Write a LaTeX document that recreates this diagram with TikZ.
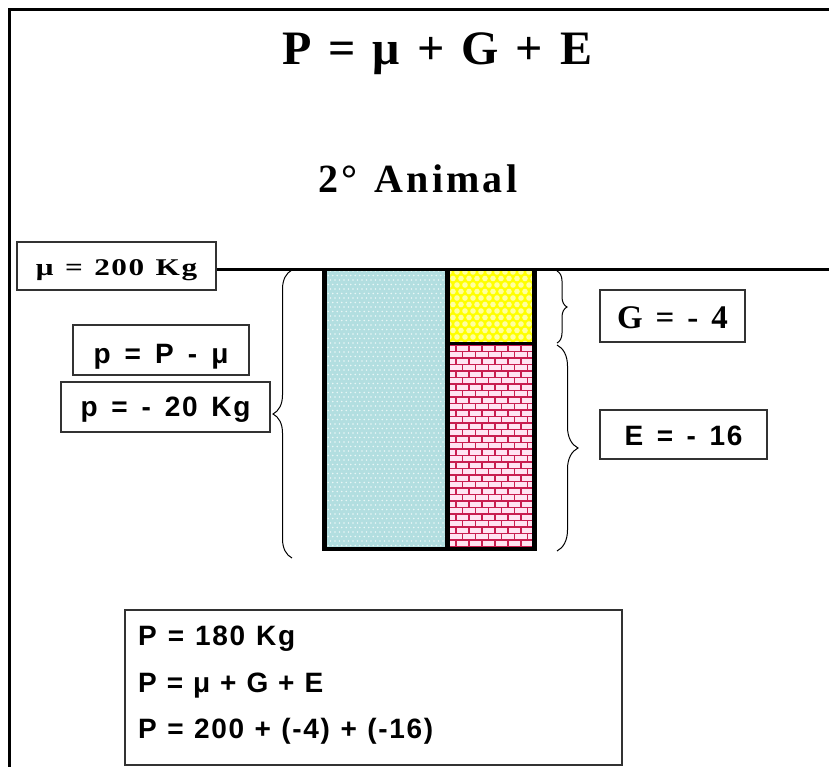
\documentclass[tikz,border=0pt]{standalone}
\usepackage{fontspec}
\usepackage{graphicx}
\setmainfont{Liberation Serif}
\setsansfont{Liberation Sans}
\usetikzlibrary{decorations.pathreplacing}
\newcommand{\tmsf}[1]{\fontsize{#1}{#1}\selectfont\rmfamily\bfseries\addfontfeature{LetterSpace=5}}
\newcommand{\tmsw}[1]{\fontsize{#1}{#1}\selectfont\rmfamily\bfseries\addfontfeature{LetterSpace=8}}
\newcommand{\arsf}[1]{\fontsize{#1}{#1}\selectfont\sffamily\bfseries\addfontfeature{LetterSpace=6}}
\newcommand{\wbox}[2]{\makebox[#1][s]{#2}}
\definecolor{boxline}{RGB}{50,50,50}
\definecolor{bluefill}{RGB}{178,222,224}
\definecolor{bluedot}{RGB}{232,246,246}
\definecolor{yelfill}{RGB}{255,255,0}
\definecolor{yellite}{RGB}{255,255,160}
\definecolor{brickfill}{RGB}{255,228,242}
\definecolor{brickline}{RGB}{200,30,80}
\tikzset{
  lblbox/.style={draw=boxline, line width=1.5pt, inner sep=0pt, text depth=0pt, align=center},
  plain/.style={inner sep=0pt, anchor=base west},
  thick frame/.style={line width=3pt},
  bracestyle/.style={draw=black, line width=1pt, decorate},
}
\begin{document}
\begin{tikzpicture}[x=1pt,y=-1pt]
\useasboundingbox (0,0) rectangle (829,767);
% outer frame
\draw[thick frame] (9.5,767) -- (9.5,9.5) -- (829,9.5);
% titles
\node[plain] (title) at (282,65) {\tmsf{48}\wbox{310pt}{P = μ + G + E}};
\node[plain] (animal) at (318,193) {\tmsw{40}\wbox{199pt}{2° Animal}};
% bar: blue part
\fill[bluefill] (324,269) rectangle (447,549);
\begin{scope}
\clip (324,269) rectangle (447,549);
\foreach \j in {0,...,62}{
  \pgfmathsetmacro\off{mod(\j,2)*2.25}
  \foreach \i in {0,...,27}{
    \fill[bluedot] ({326+\i*4.5+\off},{271+\j*4.5}) circle[radius=0.8pt];
  }
}
\end{scope}
% yellow part
\fill[yelfill] (447,269) rectangle (535,344);
\begin{scope}
\clip (447,269) rectangle (535,344);
\foreach \j in {0,...,12}{
  \pgfmathsetmacro\off{mod(\j,2)*4}
  \foreach \i in {0,...,11}{
    \fill[yellite] ({449+\i*8+\off},{272+\j*6.5}) circle[radius=2.8pt];
  }
}
\end{scope}
% brick part
\fill[brickfill] (447,344) rectangle (535,549);
\begin{scope}
\clip (447,344) rectangle (535,549);
\foreach \r in {0,...,31}{
  \pgfmathsetmacro\yy{345+\r*6.5}
  \draw[brickline, line width=1.2pt] (447,\yy) -- (535,\yy);
  \pgfmathsetmacro\off{mod(\r,2)*6.5}
  \foreach \m in {0,...,7}{
    \draw[brickline, line width=1.2pt] ({443+\off+\m*13},\yy) -- ++(0,6.5);
  }
}
\end{scope}
% bar borders
\draw[line width=4.5pt] (324.5,269) -- (324.5,549) -- (534.5,549) -- (534.5,269);
\draw[line width=4.5pt] (447.5,269) -- (447.5,549);
\draw[line width=3pt] (447.5,343.5) -- (534.5,343.5);
% labels
\node[lblbox, minimum width=199pt, minimum height=48pt, text height=18pt] (mu) at (116.5,266) {\scalebox{1.3}[1]{\tmsf{24}\wbox{124pt}{μ = 200 Kg}}};
\node[lblbox, minimum width=176pt, minimum height=50pt, text height=26pt] (pP) at (161,350) {\arsf{28}\wbox{135pt}{p = P - μ}};
\node[lblbox, minimum width=209pt, minimum height=50pt, text height=18pt] (p20) at (165.5,407) {\arsf{28}\wbox{170pt}{p = - 20 Kg}};
\node[lblbox, minimum width=145pt, minimum height=52pt, text height=24pt] (G) at (672.5,316) {\tmsf{33}\wbox{111pt}{G = - 4}};
\node[lblbox, minimum width=167pt, minimum height=49pt, text height=21pt] (E) at (683.5,434.5) {\arsf{28}\wbox{118pt}{E = - 16}};
% baseline line
\coordinate (lineR) at (829,269);
\draw[thick frame] (mu.east |- lineR) -- (lineR);
% braces
\coordinate (pbot) at (292,558);
\coordinate (ptop) at (292,270);
\coordinate (gtop) at (557,271);
\coordinate (gbot) at (557,343);
\coordinate (etop) at (557,345);
\coordinate (ebot) at (557,551);
\draw[bracestyle, decoration={brace, amplitude=19pt}] (pbot) -- (ptop);
\draw[bracestyle, decoration={brace, amplitude=10pt}] (gtop) -- (gbot);
\draw[bracestyle, decoration={brace, amplitude=21pt}] (etop) -- (ebot);
% result box
\node[lblbox, minimum width=497pt, minimum height=155pt] (eq) at (373.5,687.5) {};
\node[plain] (eq1) at (138,645) {\arsf{28}\wbox{157pt}{P = 180 Kg}};
\node[plain] (eq2) at (138,692) {\arsf{28}\wbox{185pt}{P = μ + G + E}};
\node[plain] (eq3) at (138,738) {\arsf{28}\wbox{295pt}{P = 200 + (-4) + (-16)}};
\end{tikzpicture}
\end{document}
